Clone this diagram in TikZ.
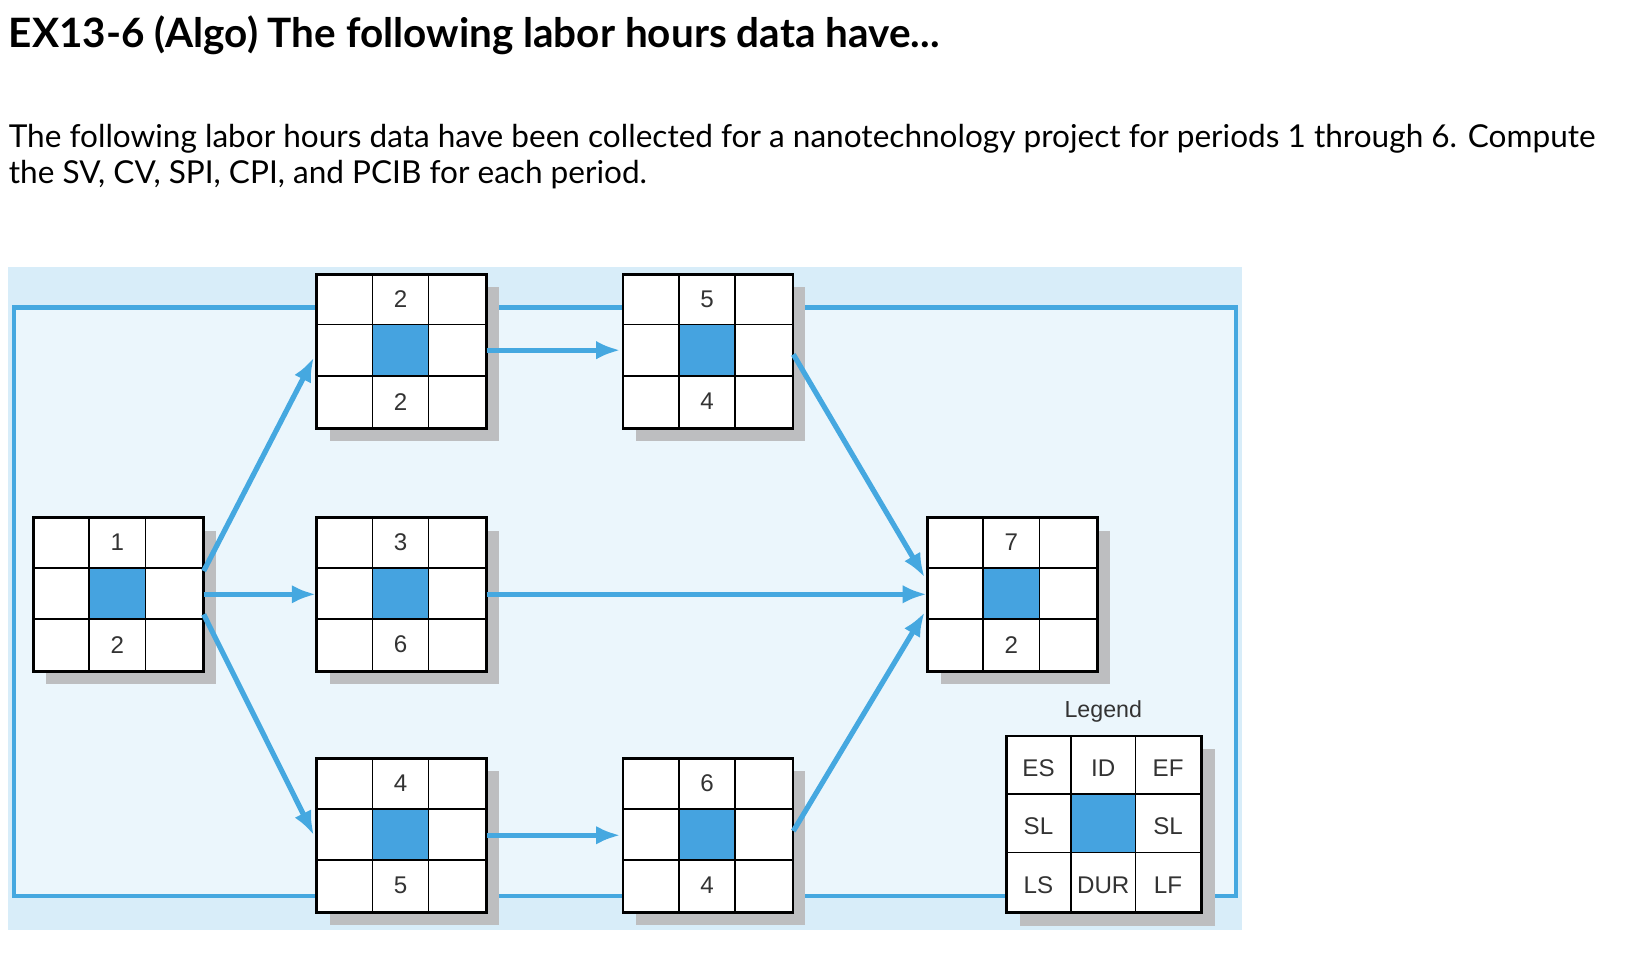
\documentclass[tikz,border=0pt]{standalone}
\usepackage{fontspec}
\setmainfont{Lato}
\newfontfamily\boxfont{Liberation Sans}
\usetikzlibrary{calc,arrows.meta}
\definecolor{bandblue}{HTML}{D8EDF9}
\definecolor{innerblue}{HTML}{EBF6FC}
\definecolor{lineblue}{HTML}{45A8E0}
\definecolor{cellblue}{HTML}{45A3E0}
\definecolor{shadowgray}{HTML}{BDBEC0}
\tikzset{
  box/.style={draw=black,line width=1pt,fill=white,minimum width=3.2cm,minimum height=2.9cm,inner sep=0pt,anchor=north west},
  conn/.style={draw=lineblue,line width=2.8pt,-{Latex[length=13pt,width=10pt]}},
  loopline/.style={draw=lineblue,line width=2.2pt},
  celltxt/.style={font=\boxfont\fontsize{13}{15}\selectfont,text=black!80}
}
\newcommand\netbox[5]{%
  \fill[shadowgray] (#2+13,#3+13) rectangle ++(160,145);
  \node[box] (#1) at (#2,#3) {};
  \fill[cellblue] ($(#1.north west)+(53.3,48.3)$) rectangle ++(53.3,48.3);
  \draw[line width=0.8pt] ($(#1.north west)+(53.3,0)$) -- ++(0,145)
    ($(#1.north west)+(106.7,0)$) -- ++(0,145)
    ($(#1.north west)+(0,48.3)$) -- ++(160,0)
    ($(#1.north west)+(0,96.7)$) -- ++(160,0);
  \draw[line width=1pt] (#1.north west) rectangle (#1.south east);
  \node[celltxt] at ($(#1.north west)+(80,24)$) {#4};
  \node[celltxt] at ($(#1.north west)+(80,121)$) {#5};
}
\begin{document}
\begin{tikzpicture}[x=0.02cm,y=-0.02cm]
\useasboundingbox (0,0) rectangle (1550,910);
\fill[white] (0,0) rectangle (1550,910);
\node[anchor=base west,inner sep=0pt,font=\bfseries\fontsize{21.8}{24}\selectfont] (title) at (8,45) {EX13-6 (Algo) The following labor hours data have...};
\node[anchor=base west,inner sep=0pt,font=\fontsize{17}{20}\selectfont] (l1) at (8,140) {The following labor hours data have been collected for a nanotechnology project for periods 1 through 6. Compute};
\node[anchor=base west,inner sep=0pt,font=\fontsize{17}{20}\selectfont] (l2) at (8,174) {the SV, CV, SPI, CPI, and PCIB for each period.};
% background
\fill[bandblue] (8,253) rectangle (1175,880);
\fill[innerblue] (13,291) rectangle (1170,848);
\draw[loopline] (13,291) rectangle (1170,848);
% boxes
\netbox{n1}{31}{489}{1}{2}
\netbox{n2}{299}{259}{2}{2}
\netbox{n3}{299}{489}{3}{6}
\netbox{n4}{299}{717}{4}{5}
\netbox{n5}{589}{259}{5}{4}
\netbox{n6}{589}{717}{6}{4}
\netbox{n7}{877}{489}{7}{2}
% legend
\node[font=\boxfont\fontsize{12.5}{15}\selectfont,text=black!80] (legtitle) at (1044,673) {Legend};
\fill[shadowgray] (965,709) rectangle ++(185,167);
\node[box,minimum width=3.68cm,minimum height=3.32cm] (leg) at (952,696) {};
\fill[cellblue] (1013.3,751.3) rectangle (1074.7,806.7);
\draw[line width=0.8pt] (1013.3,696) -- (1013.3,862) (1074.7,696) -- (1074.7,862)
  (952,751.3) -- (1136,751.3) (952,806.7) -- (1136,806.7);
\draw[line width=1pt] (leg.north west) rectangle (leg.south east);
\foreach \t/\x/\y in {ES/982.7/727,ID/1044/727,EF/1105.3/727,SL/982.7/782,SL/1105.3/782,LS/982.7/838,DUR/1044/838,LF/1105.3/838}
  \node[celltxt,inner sep=0pt] at (\x,\y) {\t};
% connectors
\draw[conn] ($(n1.east)+(0,-22)$) -- ($(n2.west)+(-2,6)$);
\draw[conn] (n1.east) -- (n3.west);
\draw[conn] ($(n1.east)+(0,19)$) -- ($(n4.west)+(-2,0)$);
\draw[conn] ($(n2.east)+(0,-1)$) -- ($(n5.west)+(-2,-1)$);
\draw[conn] (n3.east) -- (n7.west);
\draw[conn] ($(n5.east)+(0,3)$) -- ($(n7.west)+(-2,-16)$);
\draw[conn] ($(n4.east)+(0,0)$) -- ($(n6.west)+(-2,0)$);
\draw[conn] ($(n6.east)+(0,-4)$) -- ($(n7.west)+(-2,17)$);
\end{tikzpicture}
\end{document}
